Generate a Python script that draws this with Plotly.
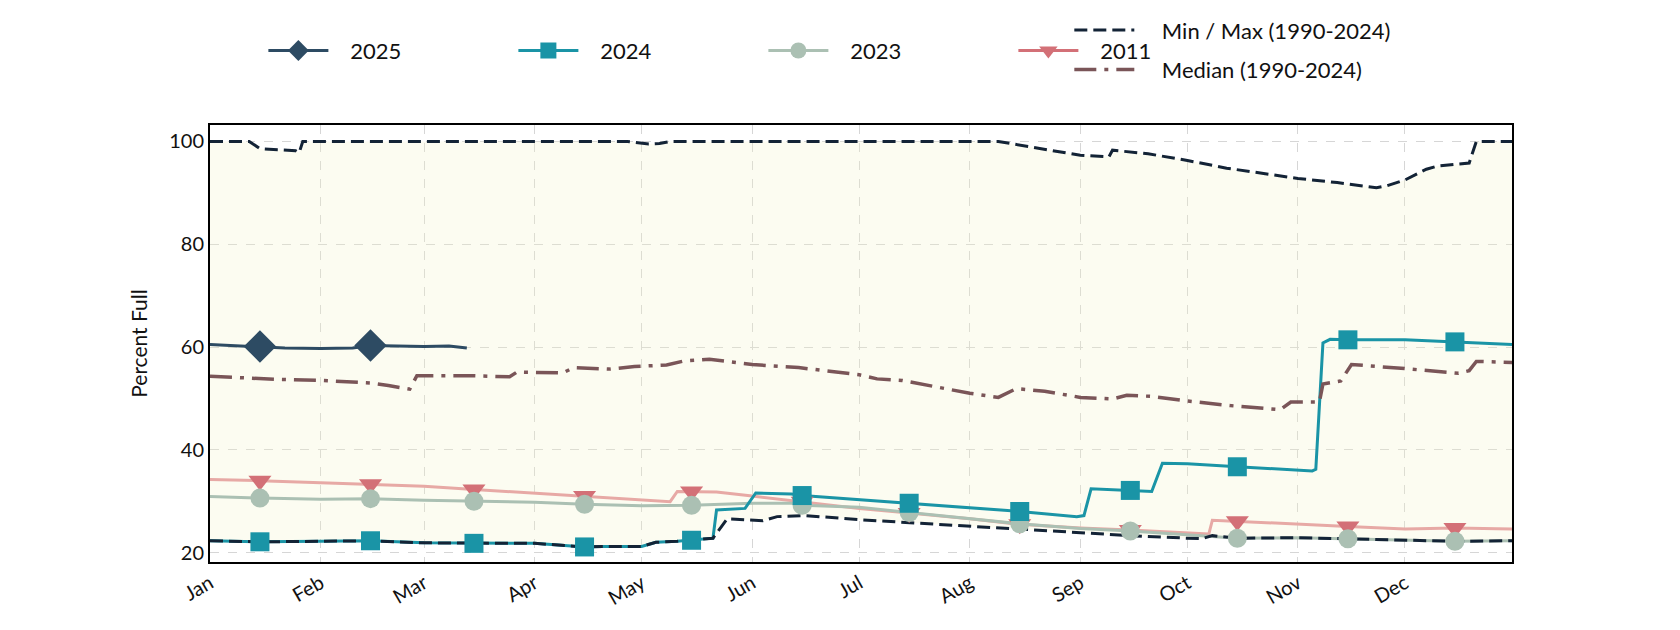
import plotly.graph_objects as go

YEAR = "2024-"

# historical envelope (1990-2024)
max_dates = ["01-01", "01-12", "01-15", "01-20", "01-25", "01-26", "01-27", "04-27", "05-03",
             "05-06", "05-09", "08-09", "08-17", "09-01", "09-09", "09-10", "09-20", "10-01",
             "10-12", "11-01", "11-12", "11-23", "11-26", "12-01", "12-07", "12-10", "12-19",
             "12-21", "12-31"]
max_vals = [100, 100, 98.6, 98.4, 98.2, 97.8, 100, 100, 99.5, 99.6, 100, 100, 99.1, 97.3, 97.0,
            98.3, 97.6, 96.3, 94.8, 92.8, 92.0, 91.0, 91.4, 92.5, 94.6, 95.2, 95.8, 100, 100]

min_dates = ["01-01", "01-15", "02-01", "02-15", "03-01", "03-15", "04-01", "04-15", "04-20",
             "05-01", "05-05", "05-11", "05-15", "05-21", "05-25", "06-04", "06-08", "06-16",
             "07-01", "08-01", "09-01", "09-15", "10-01", "10-05", "10-08", "10-15", "11-01",
             "11-15", "12-01", "12-15", "12-31"]
min_vals = [22.3, 22.1, 22.2, 22.3, 21.9, 21.8, 21.8, 21.1, 21.2, 21.2, 22.0, 22.2, 22.4, 22.8,
            26.6, 26.2, 27.0, 27.2, 26.4, 25.1, 23.8, 23.3, 22.8, 22.7, 23.3, 22.8, 22.9, 22.7,
            22.5, 22.2, 22.3]

med_dates = ["01-01", "01-20", "02-01", "02-15", "02-20", "02-26", "02-28", "03-15", "03-25",
             "03-27", "04-09", "04-12", "04-22", "04-29", "05-08", "05-13", "05-20", "06-01",
             "06-14", "07-01", "07-06", "07-13", "08-01", "08-09", "08-14", "08-22", "09-01",
             "09-10", "09-14", "09-21", "10-01", "10-13", "10-27", "10-30", "11-07", "11-08",
             "11-13", "11-16", "12-01", "12-16", "12-19", "12-21", "12-31"]
med_vals = [54.3, 53.7, 53.5, 53.0, 52.5, 51.8, 54.4, 54.4, 54.2, 55.1, 55.0, 56.0, 55.7, 56.2,
            56.5, 57.3, 57.6, 56.6, 56.0, 54.6, 53.8, 53.5, 51.0, 50.2, 51.9, 51.4, 50.2, 49.9,
            50.6, 50.4, 49.5, 48.6, 47.8, 49.3, 49.3, 52.8, 53.4, 56.6, 55.8, 54.9, 55.4, 57.2, 57.0]

# individual years
d2011 = ["01-01", "01-15", "02-01", "02-15", "03-01", "03-15", "04-01", "04-15", "05-01",
         "05-09", "05-11", "05-15", "05-22", "06-01", "06-15", "07-01", "07-15", "08-01",
         "08-15", "09-01", "09-15", "10-07", "10-08", "10-15", "11-01", "11-15", "12-01",
         "12-15", "12-31"]
v2011 = [34.2, 34.0, 33.6, 33.3, 32.9, 32.3, 31.6, 31.0, 30.3, 29.9, 31.9, 31.9, 31.8, 31.0,
         29.9, 28.6, 27.7, 26.6, 25.5, 24.8, 24.4, 23.6, 26.3, 26.1, 25.5, 25.1, 24.6, 24.8, 24.6]

d2023 = ["01-01", "01-15", "02-01", "02-15", "03-01", "03-15", "04-01", "04-15", "05-01",
         "05-15", "06-01", "06-12", "06-15", "07-01", "07-15", "08-01", "08-15", "09-01",
         "09-15", "10-05", "10-15", "11-01", "11-15", "12-01", "12-15", "12-31"]
v2023 = [30.9, 30.6, 30.4, 30.5, 30.2, 30.0, 29.8, 29.4, 29.1, 29.2, 29.6, 29.6, 29.2, 28.8,
         27.8, 26.7, 25.6, 24.7, 24.2, 23.3, 22.8, 22.9, 22.7, 22.5, 22.2, 22.3]

d2024 = ["01-01", "01-15", "02-01", "02-15", "03-01", "03-15", "04-01", "04-15", "04-20",
         "05-01", "05-05", "05-11", "05-15", "05-21", "05-22", "05-30", "06-02", "06-12",
         "06-15", "07-01", "07-15", "08-01", "08-15", "08-31", "09-02", "09-04", "09-15",
         "09-21", "09-24", "10-01", "10-15", "11-05", "11-06", "11-08", "11-10", "11-15",
         "12-01", "12-15", "12-31"]
v2024 = [22.3, 22.1, 22.2, 22.3, 21.9, 21.8, 21.8, 21.1, 21.2, 21.2, 22.0, 22.2, 22.4, 22.8,
         28.3, 28.6, 31.6, 31.4, 31.1, 30.3, 29.6, 28.8, 28.0, 27.0, 27.2, 32.4, 32.1, 31.9,
         37.4, 37.3, 36.7, 35.9, 36.2, 60.8, 61.5, 61.4, 61.4, 61.0, 60.5]

d2025 = ["01-01", "01-08", "01-15", "01-22", "02-01", "02-10", "02-15", "02-22", "03-01",
         "03-08", "03-13"]
v2025 = [60.5, 60.3, 60.1, 59.8, 59.7, 59.8, 60.3, 60.2, 60.1, 60.2, 59.8]

years = [  # drawn bottom to top
    ("2011", d2011, v2011, "#e7a9a5", "#d37077", "triangle-down", 20),
    ("2023", d2023, v2023, "#abc0b3", "#abc0b3", "circle", 19),
    ("2024", d2024, v2024, "#1a94a6", "#1a94a6", "square", 19),
    ("2025", d2025, v2025, "#2d4b63", "#2d4b63", "diamond", 25),
]

FONT = "Lato, 'Open Sans', sans-serif"
INK = "#132336"
NB = "\u00a0"


def xs(dates):
    return [YEAR + d for d in dates]


fig = go.Figure()

# cream band between min and max (translucent so the grid shows through)
fig.add_trace(go.Scatter(x=xs(max_dates), y=max_vals, mode="lines", line=dict(width=0),
                         showlegend=False, hoverinfo="skip"))
fig.add_trace(go.Scatter(x=xs(min_dates), y=min_vals, mode="lines", line=dict(width=0),
                         fill="tonexty", fillcolor="rgba(243,243,199,0.25)",
                         showlegend=False, hoverinfo="skip"))

for name, d, v, lc, mc, sym, ms in years:
    fig.add_trace(go.Scatter(x=xs(d), y=v, mode="lines", showlegend=False,
                             line=dict(color=lc, width=3)))

fig.add_trace(go.Scatter(x=xs(max_dates), y=max_vals, name=NB * 4 + "Min / Max (1990-2024)",
                         mode="lines", legend="legend2", legendgroup="mm",
                         line=dict(color=INK, width=3, dash="13px,6px")))
fig.add_trace(go.Scatter(x=xs(min_dates), y=min_vals, mode="lines", showlegend=False,
                         line=dict(color=INK, width=3, dash="13px,6px")))
fig.add_trace(go.Scatter(x=xs(med_dates), y=med_vals, name=NB * 4 + "Median (1990-2024)",
                         mode="lines", legend="legend2", legendgroup="med",
                         line=dict(color="#7a5558", width=3.5, dash="22px,8px,4px,8px")))

# mid-month markers on top of everything
for name, d, v, lc, mc, sym, ms in years:
    md = [s for s in d if s.endswith("-15")]
    mv = [val for s, val in zip(d, v) if s.endswith("-15")]
    fig.add_trace(go.Scatter(x=xs(md), y=mv, mode="markers", showlegend=False,
                             marker=dict(symbol=sym, color=mc, size=ms)))

# legend entries (line + marker)
for name, d, v, lc, mc, sym, ms in years:
    fig.add_trace(go.Scatter(x=[None], y=[None], name=NB * 3 + name, mode="lines+markers",
                             legend="legend",
                             line=dict(color=mc if name == "2011" else lc, width=3),
                             marker=dict(symbol=sym, color=mc, size=16)))

axis = dict(showline=True, linecolor="black", linewidth=2, mirror=True, automargin=False,
            showgrid=True, gridcolor="#d6d6d6", griddash="dash", gridwidth=1.3,
            zeroline=False, ticks="", tickfont=dict(size=20, color="#111"))

fig.update_xaxes(**axis, range=["2024-01-01", "2024-12-31"], dtick="M1",
                 tickformat="%b", tickangle=-30)
fig.update_yaxes(**axis, range=[18.17, 103.2], tickvals=[20, 40, 60, 80, 100],
                 title=dict(text="Percent Full", font=dict(size=21, color="#111"), standoff=16))

fig.update_layout(
    width=1680, height=630,
    template="plotly_white",
    plot_bgcolor="white", paper_bgcolor="white",
    font=dict(family=FONT, size=20, color="#111"),
    margin=dict(l=210, r=168, t=125, b=68, autoexpand=False),
    legend=dict(orientation="h", x=0.041, y=1.17, xanchor="left", yanchor="middle",
                traceorder="reversed", itemwidth=60, entrywidth=175,
                font=dict(size=22), bgcolor="rgba(0,0,0,0)"),
    legend2=dict(orientation="v", x=0.66, y=1.265, xanchor="left", yanchor="top",
                 itemwidth=60, tracegroupgap=8, font=dict(size=22),
                 bgcolor="rgba(0,0,0,0)"),
)

# page body margin would shift the figure by 8px
fig.write_html("out.html", config={"displayModeBar": False},
               post_script="document.body.style.margin='0px';")
